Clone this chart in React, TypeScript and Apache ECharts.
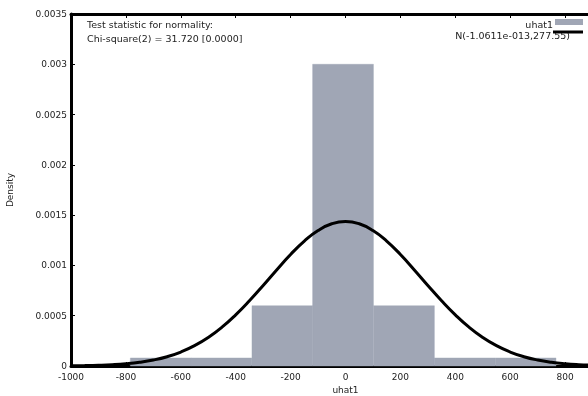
import React, { useEffect, useRef } from "react";
import * as echarts from "echarts";

// Histogram bins (centers), bin width and densities
const binCenters = [-673, -452, -230, -9, 213, 434, 656];
const binWidth = 221.5;
const binDensity = [0.00008, 0.00008, 0.0006, 0.003, 0.0006, 0.00008, 0.00008];

// Fitted normal curve points
const curveX = [
  -1000, -950, -900, -850, -800, -750, -700, -650, -600, -550, -500, -450, -400, -350, -300, -250, -200, -150, -100, -50,
  0, 50, 100, 150, 200, 250, 300, 350, 400, 450, 500, 550, 600, 650, 700, 750, 800, 850, 900, 950, 1000,
];
const curveY = [
  0.0000022, 0.0000041, 0.0000075, 0.0000132, 0.0000226, 0.0000373, 0.0000597, 0.0000926, 0.000139, 0.000202,
  0.000284, 0.000386, 0.000509, 0.000649, 0.000801, 0.000958, 0.001109, 0.001242, 0.001347, 0.001414,
  0.001437,
  0.001414, 0.001347, 0.001242, 0.001109, 0.000958, 0.000801, 0.000649, 0.000509, 0.000386, 0.000284,
  0.000202, 0.000139, 0.0000926, 0.0000597, 0.0000373, 0.0000226, 0.0000132, 0.0000075, 0.0000041, 0.0000022,
];

const seriesNames = ["uhat1", "N(-1.0611e-013,277.55)"];
const annotation = ["Test statistic for normality:", "Chi-square(2) = 31.720 [0.0000]"];
const axisNames = { x: "uhat1", y: "Density" };

const FONT = "DejaVu Sans";
const BAR_COLOR = "#a0a6b5";

export default function App() {
  const ref = useRef<HTMLDivElement>(null);
  useEffect(() => {
    if (!ref.current) return;
    const chart = echarts.init(ref.current, null, { renderer: "svg" });
    const axisText = { color: "#222", fontFamily: FONT, fontSize: 9 };
    chart.setOption({
      animation: false,
      textStyle: { fontFamily: FONT },
      grid: { left: 71, right: 0, top: 14, bottom: 30, containLabel: false, outerBoundsMode: "none" },
      xAxis: [
        {
          type: "value",
          min: -1000,
          max: 1000,
          interval: 200,
          position: "bottom",
          name: axisNames.x,
          nameLocation: "middle",
          nameGap: 19,
          nameTextStyle: { ...axisText },
          axisLine: { show: true, onZero: false, lineStyle: { color: "#000", width: 3 } },
          axisTick: { show: true, inside: true, length: 4, lineStyle: { color: "#000", width: 1 } },
          axisLabel: { ...axisText, margin: 6, showMaxLabel: false, formatter: (v: number) => String(v) },
          splitLine: { show: false },
        },
        {
          type: "value",
          min: -1000,
          max: 1000,
          interval: 200,
          position: "top",
          axisLine: { show: true, onZero: false, lineStyle: { color: "#000", width: 3 } },
          axisTick: { show: true, inside: true, length: 4, lineStyle: { color: "#000", width: 1 } },
          axisLabel: { show: false },
          splitLine: { show: false },
        },
      ],
      yAxis: {
        type: "value",
        min: 0,
        max: 0.0035,
        interval: 0.0005,
        name: axisNames.y,
        nameLocation: "middle",
        nameRotate: 90,
        nameGap: 57,
        nameTextStyle: { ...axisText },
        axisLine: { show: true, onZero: false, lineStyle: { color: "#000", width: 3 } },
        axisTick: { show: true, inside: true, length: 4, lineStyle: { color: "#000", width: 1 } },
        axisLabel: { ...axisText, margin: 4 },
        splitLine: { show: false },
      },
      series: [
        {
          name: seriesNames[0],
          type: "custom",
          xAxisIndex: 0,
          yAxisIndex: 0,
          z: 1,
          data: binCenters.map((c, i) => [c, binDensity[i]]),
          renderItem: (params: any, api: any) => {
            const c = api.value(0);
            const d = api.value(1);
            const p0 = api.coord([c - binWidth / 2, d]);
            const p1 = api.coord([c + binWidth / 2, 0]);
            return {
              type: "rect",
              shape: { x: p0[0], y: p0[1], width: p1[0] - p0[0], height: p1[1] - p0[1] },
              style: { fill: BAR_COLOR, stroke: BAR_COLOR, lineWidth: 0.4 },
            };
          },
        },
        {
          name: seriesNames[1],
          type: "line",
          xAxisIndex: 0,
          yAxisIndex: 0,
          z: 3,
          smooth: true,
          showSymbol: false,
          symbol: "none",
          data: curveX.map((x, i) => [x, curveY[i]]),
          lineStyle: { color: "#000", width: 3 },
        },
      ],
      graphic: [
        {
          type: "text",
          x: 87,
          y: 24,
          style: { text: annotation[0], fill: "#222", font: `9.5px "${FONT}"`, align: "left", verticalAlign: "middle" },
        },
        {
          type: "text",
          x: 87,
          y: 38,
          style: { text: annotation[1], fill: "#222", font: `9.5px "${FONT}"`, align: "left", verticalAlign: "middle" },
        },
        {
          type: "text",
          x: 553,
          y: 24,
          style: { text: seriesNames[0], fill: "#222", font: `9.5px "${FONT}"`, align: "right", verticalAlign: "middle" },
        },
        {
          type: "rect",
          shape: { x: 555, y: 19, width: 28, height: 6 },
          style: { fill: BAR_COLOR },
        },
        {
          type: "text",
          x: 570,
          y: 35,
          style: { text: seriesNames[1], fill: "#222", font: `9.5px "${FONT}"`, align: "right", verticalAlign: "middle" },
        },
        {
          type: "line",
          shape: { x1: 553, y1: 32, x2: 583, y2: 32 },
          style: { stroke: "#000", lineWidth: 3 },
        },
      ],
    });
    return () => chart.dispose();
  }, []);
  return (
    <div style={{ position: "fixed", left: 0, top: 0, width: 588, height: 396, overflow: "hidden" }}>
      <div ref={ref} style={{ width: 620, height: 396 }} />
    </div>
  );
}
